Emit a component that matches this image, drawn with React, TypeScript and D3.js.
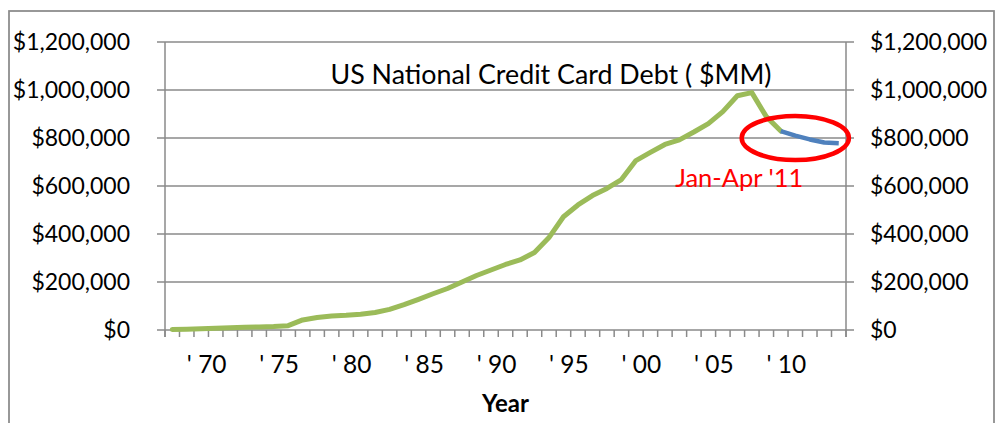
import React from 'react';
import * as d3 from 'd3';

// ---- data ----
const years: string[] = d3.range(1968, 2011).map(String);
const months2011: string[] = ['Jan 2011', 'Feb 2011', 'Mar 2011', 'Apr 2011'];
const categories: string[] = [...years, ...months2011];

// US revolving credit card debt, $MM (year end), 1968-2010
const annualDebt: number[] = [
  2000, 3500, 5000, 7500, 9000, 11000, 13000, 14500, 18000, 42000,
  52000, 58000, 61000, 66000, 73000, 86000, 106000, 128000, 151000, 173000,
  200000, 227000, 250000, 273000, 292000, 323000, 385000, 472000, 521000, 560000,
  590000, 627000, 706000, 740000, 773000, 792000, 825000, 860000, 910000, 976000,
  989000, 889000, 829000,
];
// Jan-Apr 2011
const monthlyDebt2011: number[] = [810000, 794000, 781000, 778000];

const xTickYears: string[] = ['1970', '1975', '1980', '1985', '1990', '1995', '2000', '2005', '2010'];
const xTickLabels: string[] = ["' 70", "' 75", "' 80", "' 85", "' 90", "' 95", "' 00", "' 05", "' 10"];
const yTicks: number[] = [0, 200000, 400000, 600000, 800000, 1000000, 1200000];

const titleText = 'US National Credit Card Debt ( $MM)';
const annotationText = "Jan-Apr '11";
const xAxisTitle = 'Year';

// ---- layout ----
const W = 995;
const H = 423;
const plot = { left: 165, right: 846, top: 42, bottom: 330 };
const FONT = 'Lato, "Open Sans", sans-serif';
const GRID = '#8a8a8a';

export default function App() {
  const x = d3.scaleBand<string>().domain(categories).range([plot.left, plot.right]).padding(0);
  const y = d3.scaleLinear().domain([0, 1200000]).range([plot.bottom, plot.top]);
  const bw = x.bandwidth();
  const cx = (c: string) => (x(c) as number) + bw / 2;
  const fmt = d3.format('$,.0f');

  type P = { c: string; v: number };
  const greenPts: P[] = years.map((c, i) => ({ c, v: annualDebt[i] }));
  const bluePts: P[] = [
    { c: years[years.length - 1], v: annualDebt[annualDebt.length - 1] },
    ...months2011.map((c, i) => ({ c, v: monthlyDebt2011[i] })),
  ];
  const line = d3.line<P>().x((d) => cx(d.c)).y((d) => y(d.v));

  const boundaries = d3.range(categories.length + 1).map((i) => plot.left + i * bw);

  // annotation ellipse around the 2011 segment
  const ellCx = cx('Jan 2011');
  const ellCy = y(800000);
  const ellRx = bw * 3.7;
  const ellRy = y(0) - y(92000);

  return (
    <svg
      width={W}
      height={H}
      style={{ position: 'absolute', left: 0, top: 0, background: '#fff' }}
      fontFamily={FONT}
    >
      {/* outer chart border */}
      <rect x={9} y={11} width={985} height={440} fill="#fff" stroke={GRID} strokeWidth={1.75} />

      {/* gridlines + y ticks */}
      {yTicks.map((t) => (
        <line key={'g' + t} x1={plot.left - 8} x2={plot.right + 8} y1={y(t)} y2={y(t)} stroke={GRID} strokeWidth={1.5} />
      ))}
      {/* y axes */}
      <line x1={plot.left} x2={plot.left} y1={plot.top} y2={plot.bottom + 7} stroke={GRID} strokeWidth={1.5} />
      <line x1={plot.right} x2={plot.right} y1={plot.top} y2={plot.bottom + 7} stroke={GRID} strokeWidth={1.5} />
      {/* x tick marks */}
      {boundaries.map((b, i) => (
        <line key={'xt' + i} x1={b} x2={b} y1={plot.bottom} y2={plot.bottom + 7} stroke={GRID} strokeWidth={1.5} />
      ))}

      {/* y labels */}
      {yTicks.map((t) => (
        <text key={'yl' + t} x={130} y={y(t) + 8} textAnchor="end" fontSize={23} fill="#000">
          {fmt(t)}
        </text>
      ))}
      {yTicks.map((t) => (
        <text key={'yr' + t} x={870} y={y(t) + 8} textAnchor="start" fontSize={23} fill="#000">
          {fmt(t)}
        </text>
      ))}

      {/* x labels */}
      {xTickYears.map((c, i) => (
        <text key={'xl' + c} x={cx(c) + 5.5} y={373} textAnchor="middle" fontSize={24.5} fill="#000">
          {xTickLabels[i]}
        </text>
      ))}
      <text x={(plot.left + plot.right) / 2} y={412} textAnchor="middle" fontSize={24} fontWeight="bold" fill="#000">
        {xAxisTitle}
      </text>

      {/* title */}
      <text x={551} y={84} textAnchor="middle" fontSize={26.8} fill="#000">
        {titleText}
      </text>

      {/* series */}
      <path d={line(greenPts) as string} fill="none" stroke="#9BBB59" strokeWidth={5} strokeLinejoin="round" strokeLinecap="round" />
      <path d={line(bluePts) as string} fill="none" stroke="#4F81BD" strokeWidth={4.5} strokeLinejoin="round" strokeLinecap="butt" />

      {/* annotation */}
      <ellipse cx={ellCx} cy={ellCy} rx={ellRx} ry={ellRy} fill="none" stroke="#FF0000" strokeWidth={4.5} />
      <text x={ellCx - 56} y={187} textAnchor="middle" fontSize={25.5} fill="#FF0000">
        {annotationText}
      </text>
    </svg>
  );
}
